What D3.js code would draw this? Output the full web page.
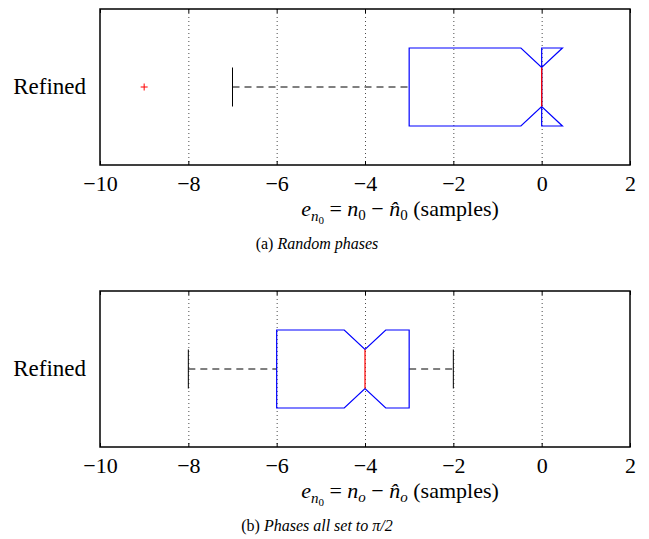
<!DOCTYPE html>
<meta charset="utf-8">
<style>
body { margin: 0; background: #fff; }
text { font-family: "Liberation Serif", "Times New Roman", Times, serif; }
.grid line { stroke: #000; stroke-width: 1; stroke-dasharray: 1,3; opacity: 0.7; }
</style>
<body>
<script src="https://d3js.org/d3.v7.min.js"></script>
<script>

// data, one entry per sub-figure
var groupName = ["Refined"];
var captionTag = ["(a)", "(b)"];
var captionText = ["Random phases", "Phases all set to \u03c0/2"];
var estSymbol = ["0", "o"];        // n_0 or n_o in the x label
var q1 = [-3, -6];
var medians = [0, -4];
var q3 = [0, -3];
var whiskerLo = [-7, -8];
var whiskerHi = [0, -2];
var notchHalf = [0.47, 0.47];
var outliers = [[-9], []];
var xTicks = [-10, -8, -6, -4, -2, 0, 2];

var width = 649, height = 539;
var left = 100, right = 630, panelH = 156;
var panelTop = [9, 291];
var serif = "Liberation Serif";

var svg = d3.select("body").append("svg")
    .attr("width", width)
    .attr("height", height)
    .attr("font-family", serif);

var x = d3.scaleLinear().domain([-10, 2]).range([left, right]);

function drawPanel(i) {
  var top = panelTop[i];
  var y = d3.scaleLinear().domain([1.5, 0.5]).range([top, top + panelH]);
  var g = svg.append("g");

  // dotted grid
  g.append("g").attr("class", "grid")
    .selectAll("line")
    .data(xTicks.slice(1, -1))
    .enter().append("line")
      .attr("x1", function(d) { return x(d) + 0.5; })
      .attr("x2", function(d) { return x(d) + 0.5; })
      .attr("y1", top)
      .attr("y2", top + panelH);

  // ticks + labels (bottom axis, ticks inward)
  var ax = d3.axisBottom(x).tickValues(xTicks).tickSize(-4).tickPadding(10)
    .tickFormat(function(d) { return d < 0 ? "\u2212" + Math.abs(d) : d; });
  var axg = g.append("g")
    .attr("transform", "translate(0," + (top + panelH) + ")")
    .call(ax)
    .attr("font-family", serif)
    .attr("font-size", 22);
  axg.select(".domain").remove();
  axg.selectAll("text").attr("fill", "#000");
  axg.selectAll("line").attr("stroke", "#000");

  var axt = d3.axisTop(x).tickValues(xTicks).tickSize(-4).tickFormat("");
  var axtg = g.append("g").attr("transform", "translate(0," + top + ")").call(axt);
  axtg.select(".domain").remove();

  // frame
  g.append("rect")
    .attr("x", left).attr("y", top)
    .attr("width", right - left).attr("height", panelH)
    .attr("fill", "none").attr("stroke", "#000").attr("stroke-width", 1.5);

  // group label
  g.append("text")
    .attr("x", left - 14).attr("y", y(1) + 7)
    .attr("text-anchor", "end")
    .attr("font-size", 23)
    .text(groupName[0]);

  // whiskers
  var dash = "7,5";
  g.append("line")
    .attr("x1", x(whiskerLo[i])).attr("x2", x(q1[i]))
    .attr("y1", y(1)).attr("y2", y(1))
    .attr("stroke", "#000").attr("stroke-dasharray", dash);
  if (whiskerHi[i] > q3[i]) {
    g.append("line")
      .attr("x1", x(q3[i])).attr("x2", x(whiskerHi[i]))
      .attr("y1", y(1)).attr("y2", y(1))
      .attr("stroke", "#000").attr("stroke-dasharray", dash);
  }
  g.selectAll(".cap")
    .data([whiskerLo[i], whiskerHi[i]])
    .enter().append("line")
      .attr("x1", function(d) { return x(d); })
      .attr("x2", function(d) { return x(d); })
      .attr("y1", y(1.125)).attr("y2", y(0.875))
      .attr("stroke", "#000");

  // notched box
  var nlo = medians[i] - notchHalf[i], nhi = medians[i] + notchHalf[i];
  var pts = [
    [q1[i], 1.25], [nlo, 1.25], [medians[i], 1.125], [nhi, 1.25], [q3[i], 1.25],
    [q3[i], 0.75], [nhi, 0.75], [medians[i], 0.875], [nlo, 0.75], [q1[i], 0.75]
  ];
  g.append("path")
    .attr("d", d3.line().x(function(d) { return x(d[0]); }).y(function(d) { return y(d[1]); })(pts) + "Z")
    .attr("fill", "none").attr("stroke", "#0000ff").attr("stroke-width", 1.2);

  // median
  g.append("line")
    .attr("x1", x(medians[i])).attr("x2", x(medians[i]))
    .attr("y1", y(1.125)).attr("y2", y(0.875))
    .attr("stroke", "#ff0000").attr("stroke-width", 1.2);

  // outliers
  g.selectAll(".out")
    .data(outliers[i])
    .enter().append("path")
      .attr("d", function(d) {
        var cx = x(d), cy = y(1);
        return "M" + (cx - 3.5) + "," + cy + "H" + (cx + 3.5) + "M" + cx + "," + (cy - 3.5) + "V" + (cy + 3.5);
      })
      .attr("stroke", "#ff0000");

  // x label
  var lab = g.append("text")
    .attr("x", 400).attr("y", top + panelH + 51)
    .attr("text-anchor", "middle")
    .attr("font-size", 22);
  lab.append("tspan").attr("font-style", "italic").text("e");
  lab.append("tspan").attr("font-style", "italic").attr("font-size", 15).attr("dy", 5).text("n");
  lab.append("tspan").attr("font-size", 11).attr("dy", 3).text("0");
  lab.append("tspan").attr("dy", -8).text(" = ");
  lab.append("tspan").attr("font-style", "italic").text("n");
  lab.append("tspan").attr("font-size", 15).attr("dy", 4)
    .attr("font-style", estSymbol[i] == "o" ? "italic" : "normal").text(estSymbol[i]);
  lab.append("tspan").attr("dy", -4).text(" \u2212 ");
  lab.append("tspan").attr("font-style", "italic").text("n\u0302");
  lab.append("tspan").attr("font-size", 15).attr("dy", 4)
    .attr("font-style", estSymbol[i] == "o" ? "italic" : "normal").text(estSymbol[i]);
  lab.append("tspan").attr("dy", -4).text(" (samples)");

  // caption
  var cap = g.append("text")
    .attr("x", 317).attr("y", top + panelH + 84)
    .attr("text-anchor", "middle")
    .attr("font-size", 16);
  cap.append("tspan").text(captionTag[i] + " ");
  cap.append("tspan").attr("font-style", "italic").text(captionText[i]);
}

drawPanel(0);
drawPanel(1);

</script>
</body>
